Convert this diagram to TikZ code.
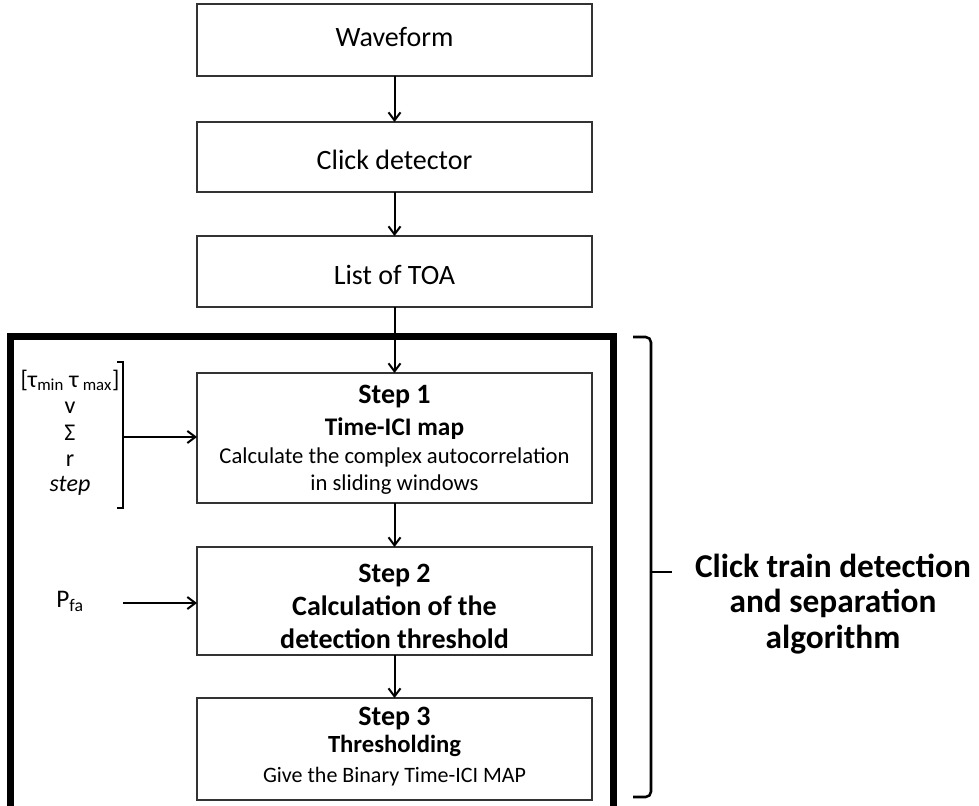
\documentclass[tikz,border=0pt]{standalone}
\usepackage{fontspec}
\setmainfont{Carlito}
\usetikzlibrary{arrows.meta}
\newcommand{\fsz}[1]{\fontsize{#1}{#1}\selectfont}
\tikzset{
  box/.style={draw=black!80, line width=1pt, minimum width=296.25pt, inner sep=0pt, outer sep=0pt},
  flow/.style={line width=1.5pt, -{Straight Barb[length=6pt,width=9pt,line width=1.5pt]}},
  txt/.style={anchor=base, inner sep=0pt, outer sep=0pt},
  brk/.style={line width=1.9pt},
}
\begin{document}
\begin{tikzpicture}[x=0.75pt,y=-0.75pt]
\useasboundingbox (0,0) rectangle (979,806);
% thick frame
\draw[line width=5.25pt] (10.5,336) rectangle (613.5,809.5);
% boxes
\node[box, minimum height=54pt]   (wave)  at (394.5,40)  {};
\node[box, minimum height=52.5pt] (click) at (394.5,157) {};
\node[box, minimum height=53.25pt](toa)   at (394.5,271.5) {};
\node[box, minimum height=97.5pt] (s1)    at (394.5,438) {};
\node[box, minimum height=81pt]   (s2)    at (394.5,601) {};
\node[box, minimum height=76.5pt] (s3)    at (394.5,749) {};
% box texts
\node[txt] (twave)  at (394.5,47)  {\fsz{21}Waveform};
\node[txt] (tclick) at (394.5,170) {\fsz{21}Click detector};
\node[txt] (ttoa)   at (394.5,285) {\fsz{21}List of TOA};
\node[txt] (s1a) at (394.5,403) {\fsz{21}\bfseries Step 1};
\node[txt] (s1b) at (394.5,435) {\fsz{19}\bfseries Time-ICI map};
\node[txt] (s1c) at (394.5,463) {\fsz{17}Calculate the complex autocorrelation};
\node[txt] (s1d) at (394.5,490) {\fsz{17}in sliding windows};
\node[txt] (s2a) at (394.5,582) {\fsz{21}\bfseries Step 2};
\node[txt] (s2b) at (394.5,615) {\fsz{21}\bfseries Calculation of the};
\node[txt] (s2c) at (394.5,648) {\fsz{21}\bfseries detection threshold};
\node[txt] (s3a) at (394.5,725) {\fsz{21}\bfseries Step 3};
\node[txt] (s3b) at (394.5,752) {\fsz{18.5}\bfseries Thresholding};
\node[txt] (s3c) at (394.5,782) {\fsz{16.5}Give the Binary Time-ICI MAP};
% flow arrows
\draw[flow] (wave) -- (click);
\draw[flow] (click) -- (toa);
\draw[flow] (toa) -- (s1);
\draw[flow] (s1) -- (s2);
\draw[flow] (s2) -- (s3);
% left parameters
\node[txt] (p1) at (70,387) {\fsz{18}[τ\textsubscript{min} τ\,\textsubscript{max}]};
\node[txt] (p2) at (70,413) {\fsz{18}v};
\node[txt] (p3) at (70,440) {\fsz{18}Σ};
\node[txt] (p4) at (70,466) {\fsz{18}r};
\node[txt] (p5) at (70,491) {\fsz{18}\itshape step};
\draw[brk] (117,362) -- (123,362) -- (123,508) -- (117,508);
\coordinate (lb) at (123,437);
\draw[flow] (lb) -- (lb -| s1.west);
% Pfa
\node[txt] (pfa) at (70,607) {\fsz{19}P\textsubscript{fa}};
\coordinate (pin) at (123,603);
\draw[flow] (pin) -- (pin -| s2.west);
% right brace
\draw[brk, rounded corners=4pt] (633,337) -- (651,337) -- (651,797) -- (633,797);
\coordinate (tk) at (651,572);
\draw[brk] (tk) -- ++(21,0);
\node[align=center, inner sep=0pt, font=\fontsize{25}{26.6}\selectfont\bfseries] (lab) at (833,604)
  {Click train detection\\ and separation\\ algorithm};
\end{tikzpicture}
\end{document}
